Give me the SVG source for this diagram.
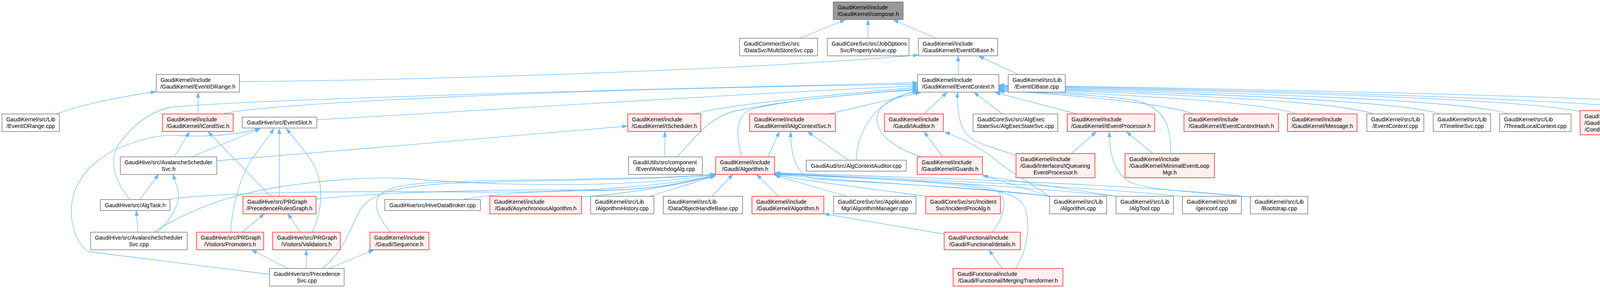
<svg xmlns="http://www.w3.org/2000/svg" width="4527" height="738" viewBox="0 0 4527 738">
<style>
.n rect{fill:#ffffff;stroke:#666666;stroke-width:1.3}
.r rect{fill:#fff0f0;stroke:#ff0000;stroke-width:1.3}
.root rect{fill:#999999;stroke:#666666;stroke-width:1.3}
text{font-family:"Liberation Sans",Arial,sans-serif;font-size:14.3px;fill:#000000}
.c{text-anchor:middle}
#edges path{fill:none;stroke:#63b8ff;stroke-width:1.3;marker-end:url(#a)}
</style>
<defs>
<marker id="a" markerUnits="userSpaceOnUse" markerWidth="14" markerHeight="10" refX="13" refY="5" orient="auto"><path d="M0,0.5 L13,5 L0,9.5 z" fill="#63b8ff" stroke="#63b8ff" stroke-width="1"/></marker>
</defs>
<rect x="0" y="0" width="4527" height="738" fill="#ffffff"/>
<g id="edges">
<path d="M2048,98 L2163,51"/>
<path d="M2222,98 L2222,51"/>
<path d="M2396,98 L2287,51"/>
<path d="M613,209 C1100,205 1900,180 2351,141"/>
<path d="M2453,191 L2453,144"/>
<path d="M2607,191 L2506,144"/>
<path d="M143,292 C220,265 320,246 399,235"/>
<path d="M507,292 L507,237"/>
<path d="M572,292 C640,268 1400,228 2349,216"/>
<path d="M332,511 C285,455 280,395 308,365 C340,320 380,290 430,276 C560,258 1500,232 2349,212"/>
<path d="M811,307 C1200,285 1900,240 2349,220"/>
<path d="M1777,292 C1850,270 2100,245 2349,224"/>
<path d="M1733,402 C1790,340 1820,300 1880,285 C2000,258 2200,240 2349,228"/>
<path d="M1900,402 C1886,360 1880,305 1915,283 C1990,258 2200,240 2349,230"/>
<path d="M2121,292 L2356,237"/>
<path d="M2192,410 C2194,350 2225,290 2275,262 C2300,248 2325,238 2349,232"/>
<path d="M2360,402 C2290,380 2245,345 2245,305 C2245,270 2290,245 2349,234"/>
<path d="M2365,292 L2424,237"/>
<path d="M2601,398 C2560,385 2520,372 2495,360 C2460,340 2450,300 2451,237"/>
<path d="M2566,292 L2494,237"/>
<path d="M2757,292 L2548,237"/>
<path d="M2997,393 C2998,320 2980,272 2900,256 C2780,240 2650,236 2558,234"/>
<path d="M3055,292 C3000,272 2850,250 2558,232"/>
<path d="M3319,292 C3230,262 2950,245 2558,230"/>
<path d="M3517,292 C3420,260 3050,242 2558,228"/>
<path d="M3687,292 C3590,260 3150,240 2558,226"/>
<path d="M3863,292 C3760,258 3250,238 2558,224"/>
<path d="M4045,286 C3900,255 3350,236 2558,222"/>
<path d="M4292,292 C4200,262 3500,235 2558,220"/>
<path d="M4433,402 C4452,370 4482,310 4452,283 C4380,255 3600,235 2558,218"/>
<path d="M490,402 L666,330"/>
<path d="M690,703 L228,645 C192,625 178,565 184,520 C192,455 250,395 334,368 C380,352 410,346 450,347 C530,352 600,346 666,330"/>
<path d="M591,595 C593,530 615,450 650,400 C672,370 688,350 701,330"/>
<path d="M715,503 L715,330"/>
<path d="M799,595 C826,540 830,470 802,420 C782,388 758,360 733,330"/>
<path d="M446,402 L485,338"/>
<path d="M693,503 L533,338"/>
<path d="M555,412 C900,385 1300,348 1606,323"/>
<path d="M358,511 L406,447"/>
<path d="M402,595 C430,570 462,530 456,490 C453,475 448,462 443,447"/>
<path d="M353,595 L349,540"/>
<path d="M620,595 L676,548"/>
<path d="M769,595 L737,548"/>
<path d="M737,688 L645,641"/>
<path d="M784,688 L784,641"/>
<path d="M842,688 L956,641"/>
<path d="M1702,402 L1702,338"/>
<path d="M1966,402 L1995,338"/>
<path d="M2687,503 C2500,478 2200,468 2080,458 C2040,448 2024,400 2024,338"/>
<path d="M2172,410 L2068,338"/>
<path d="M2413,402 L2366,338"/>
<path d="M2687,503 C2640,470 2585,440 2552,412 C2520,385 2475,360 2419,338"/>
<path d="M2743,393 L2806,338"/>
<path d="M3201,505 C3100,495 2950,488 2900,470 C2855,450 2840,400 2840,338"/>
<path d="M2951,393 L2884,338"/>
<path d="M2687,503 L2516,449"/>
<path d="M2857,503 L2516,451"/>
<path d="M4404,402 L4371,338"/>
<path d="M1663,503 L1831,451"/>
<path d="M1823,503 L1876,447"/>
<path d="M1993,503 L1937,447"/>
<path d="M2167,503 L1983,449"/>
<path d="M1489,505 C1620,495 1760,470 1831,450"/>
<path d="M1187,511 C1300,490 1450,490 1550,488 C1680,485 1780,465 1831,449"/>
<path d="M809,510 C1000,490 1300,485 1520,487 C1680,488 1780,462 1831,448"/>
<path d="M435,510 C600,490 900,490 1200,492 C1500,496 1760,470 1831,448"/>
<path d="M393,595 C480,540 580,500 720,478 C850,460 950,452 1050,458 C1250,475 1600,485 1831,447"/>
<path d="M825,688 C880,645 900,580 918,545 C945,495 1010,478 1150,470 C1400,460 1700,462 1831,446"/>
<path d="M1000,595 C970,560 950,520 975,497 C1010,468 1100,466 1300,462 C1550,458 1750,455 1831,446"/>
<path d="M2370,503 C2300,492 2100,470 1984,448"/>
<path d="M2541,595 C2580,540 2578,500 2545,485 C2460,462 2200,458 1984,446"/>
<path d="M2600,688 C2632,640 2642,560 2618,522 C2585,480 2450,466 1984,445"/>
<path d="M2687,503 C2500,482 2200,466 1984,447"/>
<path d="M2857,503 C2600,476 2300,460 1984,445"/>
<path d="M3027,503 C2700,472 2300,458 1984,444"/>
<path d="M3201,505 C2900,472 2400,456 1984,443"/>
<path d="M2417,600 L2110,548"/>
<path d="M2566,688 L2532,641"/>
</g>
<g id="compose_h" class="root"><rect x="2133" y="5" width="179" height="45"/><text x="2144" y="24">GaudiKernel/include</text><text class="c" x="2222.5" y="41.3">/GaudiKernel/compose.h</text></g>
<g id="MultiStoreSvc_cpp" class="n"><rect x="1893" y="98" width="200" height="45"/><text x="1904" y="117">GaudiCommonSvc/src</text><text class="c" x="1993" y="134.3">/DataSvc/MultiStoreSvc.cpp</text></g>
<g id="PropertyValue_cpp" class="n"><rect x="2118" y="98" width="209" height="45"/><text x="2129" y="117">GaudiCoreSvc/src/JobOptions</text><text class="c" x="2222.5" y="134.3">Svc/PropertyValue.cpp</text></g>
<g id="EventIDBase_h" class="n"><rect x="2351" y="98" width="203" height="45"/><text x="2362" y="117">GaudiKernel/include</text><text class="c" x="2452.5" y="134.3">/GaudiKernel/EventIDBase.h</text></g>
<g id="EventIDRange_h" class="n"><rect x="400" y="191" width="213" height="45"/><text x="411" y="210">GaudiKernel/include</text><text class="c" x="506.5" y="227.3">/GaudiKernel/EventIDRange.h</text></g>
<g id="EventContext_h" class="n"><rect x="2349" y="191" width="208" height="45"/><text x="2360" y="210">GaudiKernel/include</text><text class="c" x="2453" y="227.3">/GaudiKernel/EventContext.h</text></g>
<g id="EventIDBase_cpp" class="n"><rect x="2581" y="191" width="146" height="45"/><text x="2592" y="210">GaudiKernel/src/Lib</text><text class="c" x="2654" y="227.3">/EventIDBase.cpp</text></g>
<g id="EventIDRange_cpp" class="n"><rect x="5" y="292" width="147" height="45"/><text x="16" y="311">GaudiKernel/src/Lib</text><text class="c" x="78.5" y="328.3">/EventIDRange.cpp</text></g>
<g id="ICondSvc_h" class="r"><rect x="416" y="292" width="181" height="45"/><text x="427" y="311">GaudiKernel/include</text><text class="c" x="506.5" y="328.3">/GaudiKernel/ICondSvc.h</text></g>
<g id="EventSlot_h" class="n"><rect x="620" y="300" width="191" height="28"/><text class="c" x="715.5" y="319">GaudiHive/src/EventSlot.h</text></g>
<g id="IScheduler_h" class="r"><rect x="1607" y="292" width="187" height="45"/><text x="1618" y="311">GaudiKernel/include</text><text class="c" x="1700.5" y="328.3">/GaudiKernel/IScheduler.h</text></g>
<g id="IAlgContextSvc_h" class="r"><rect x="1919" y="292" width="220" height="45"/><text x="1930" y="311">GaudiKernel/include</text><text class="c" x="2029" y="328.3">/GaudiKernel/IAlgContextSvc.h</text></g>
<g id="IAuditor_h" class="r"><rect x="2264" y="292" width="151" height="45"/><text x="2275" y="311">GaudiKernel/include</text><text class="c" x="2339.5" y="328.3">/Gaudi/IAuditor.h</text></g>
<g id="AlgExecStateSvc_cpp" class="n"><rect x="2491" y="292" width="217" height="45"/><text x="2502" y="311">GaudiCoreSvc/src/AlgExec</text><text class="c" x="2599.5" y="328.3">StateSvc/AlgExecStateSvc.cpp</text></g>
<g id="IEventProcessor_h" class="r"><rect x="2732" y="292" width="224" height="45"/><text x="2743" y="311">GaudiKernel/include</text><text class="c" x="2844" y="328.3">/GaudiKernel/IEventProcessor.h</text></g>
<g id="EventContextHash_h" class="r"><rect x="3031" y="292" width="242" height="45"/><text x="3042" y="311">GaudiKernel/include</text><text class="c" x="3152" y="328.3">/GaudiKernel/EventContextHash.h</text></g>
<g id="Message_h" class="r"><rect x="3296" y="292" width="178" height="45"/><text x="3307" y="311">GaudiKernel/include</text><text class="c" x="3385" y="328.3">/GaudiKernel/Message.h</text></g>
<g id="EventContext_cpp" class="n"><rect x="3499" y="292" width="146" height="45"/><text x="3510" y="311">GaudiKernel/src/Lib</text><text class="c" x="3572" y="328.3">/EventContext.cpp</text></g>
<g id="ITimelineSvc_cpp" class="n"><rect x="3669" y="292" width="147" height="45"/><text x="3680" y="311">GaudiKernel/src/Lib</text><text class="c" x="3742.5" y="328.3">/ITimelineSvc.cpp</text></g>
<g id="ThreadLocalContext_cpp" class="n"><rect x="3839" y="292" width="183" height="45"/><text x="3850" y="311">GaudiKernel/src/Lib</text><text class="c" x="3930.5" y="328.3">/ThreadLocalContext.cpp</text></g>
<g id="ConditionAccessorHolder_h" class="r"><rect x="4045" y="283.5" width="200" height="62"/><text x="4056" y="302.5">GaudiTestSuite/include</text><text x="4056" y="319.8">/Gaudi/TestSuite/Conditions</text><text class="c" x="4145" y="337.1">/ConditionAccessorHolder.h</text></g>
<g id="Incident_h" class="r"><rect x="4268" y="292" width="172" height="45"/><text x="4279" y="311">GaudiKernel/include</text><text class="c" x="4354" y="328.3">/GaudiKernel/Incident.h</text></g>
<g id="AvalancheSchedulerSvc_h" class="n"><rect x="308" y="402" width="247" height="45"/><text x="319" y="421">GaudiHive/src/AvalancheScheduler</text><text class="c" x="431.5" y="438.3">Svc.h</text></g>
<g id="EventWatchdogAlg_cpp" class="n"><rect x="1609" y="402" width="189" height="45"/><text x="1620" y="421">GaudiUtils/src/component</text><text class="c" x="1703.5" y="438.3">/EventWatchdogAlg.cpp</text></g>
<g id="Gaudi_Algorithm_h" class="r"><rect x="1832" y="402" width="151" height="45"/><text x="1843" y="421">GaudiKernel/include</text><text class="c" x="1907.5" y="438.3">/Gaudi/Algorithm.h</text></g>
<g id="AlgContextAuditor_cpp" class="n"><rect x="2064" y="410.5" width="256" height="28"/><text class="c" x="2192" y="429.5">GaudiAud/src/AlgContextAuditor.cpp</text></g>
<g id="Guards_h" class="r"><rect x="2348" y="402" width="167" height="45"/><text x="2359" y="421">GaudiKernel/include</text><text class="c" x="2431.5" y="438.3">/GaudiKernel/Guards.h</text></g>
<g id="IQueueingEventProcessor_h" class="r"><rect x="2601" y="393.5" width="202" height="62"/><text x="2612" y="412.5">GaudiKernel/include</text><text x="2612" y="429.8">/Gaudi/Interfaces/IQueueing</text><text class="c" x="2702" y="447.1">EventProcessor.h</text></g>
<g id="MinimalEventLoopMgr_h" class="r"><rect x="2880" y="393.5" width="229" height="62"/><text x="2891" y="412.5">GaudiKernel/include</text><text x="2891" y="429.8">/GaudiKernel/MinimalEventLoop</text><text class="c" x="2994.5" y="447.1">Mgr.h</text></g>
<g id="HiveSlimEventLoopMgr_cpp" class="n"><rect x="4310" y="402" width="212" height="45"/><text x="4321" y="421">GaudiHive/src/HiveSlimEvent</text><text class="c" x="4416" y="438.3">LoopMgr.cpp</text></g>
<g id="AlgTask_h" class="n"><rect x="257" y="511.5" width="178" height="28"/><text class="c" x="346" y="530.5">GaudiHive/src/AlgTask.h</text></g>
<g id="PrecedenceRulesGraph_h" class="r"><rect x="622" y="503" width="187" height="45"/><text x="633" y="522">GaudiHive/src/PRGraph</text><text class="c" x="715.5" y="539.3">/PrecedenceRulesGraph.h</text></g>
<g id="HiveDataBroker_cpp" class="n"><rect x="985" y="511.5" width="245" height="28"/><text class="c" x="1107.5" y="530.5">GaudiHive/src/HiveDataBroker.cpp</text></g>
<g id="AsynchronousAlgorithm_h" class="r"><rect x="1254" y="503" width="235" height="45"/><text x="1265" y="522">GaudiKernel/include</text><text class="c" x="1371.5" y="539.3">/Gaudi/AsynchronousAlgorithm.h</text></g>
<g id="AlgorithmHistory_cpp" class="n"><rect x="1512" y="503" width="162" height="45"/><text x="1523" y="522">GaudiKernel/src/Lib</text><text class="c" x="1593" y="539.3">/AlgorithmHistory.cpp</text></g>
<g id="DataObjectHandleBase_cpp" class="n"><rect x="1698" y="503" width="203" height="45"/><text x="1709" y="522">GaudiKernel/src/Lib</text><text class="c" x="1799.5" y="539.3">/DataObjectHandleBase.cpp</text></g>
<g id="GaudiKernel_Algorithm_h" class="r"><rect x="1925" y="503" width="184" height="45"/><text x="1936" y="522">GaudiKernel/include</text><text class="c" x="2017" y="539.3">/GaudiKernel/Algorithm.h</text></g>
<g id="AlgorithmManager_cpp" class="n"><rect x="2134" y="503" width="211" height="45"/><text x="2145" y="522">GaudiCoreSvc/src/Application</text><text class="c" x="2239.5" y="539.3">Mgr/AlgorithmManager.cpp</text></g>
<g id="IncidentProcAlg_h" class="r"><rect x="2370" y="503" width="191" height="45"/><text x="2381" y="522">GaudiCoreSvc/src/Incident</text><text class="c" x="2465.5" y="539.3">Svc/IncidentProcAlg.h</text></g>
<g id="Algorithm_cpp" class="n"><rect x="2687" y="503" width="146" height="45"/><text x="2698" y="522">GaudiKernel/src/Lib</text><text class="c" x="2760" y="539.3">/Algorithm.cpp</text></g>
<g id="AlgTool_cpp" class="n"><rect x="2857" y="503" width="147" height="45"/><text x="2868" y="522">GaudiKernel/src/Lib</text><text class="c" x="2930.5" y="539.3">/AlgTool.cpp</text></g>
<g id="genconf_cpp" class="n"><rect x="3027" y="503" width="151" height="45"/><text x="3038" y="522">GaudiKernel/src/Util</text><text class="c" x="3102.5" y="539.3">/genconf.cpp</text></g>
<g id="Bootstrap_cpp" class="n"><rect x="3201" y="503" width="147" height="45"/><text x="3212" y="522">GaudiKernel/src/Lib</text><text class="c" x="3274.5" y="539.3">/Bootstrap.cpp</text></g>
<g id="AvalancheSchedulerSvc_cpp" class="n"><rect x="232" y="595" width="247" height="45"/><text x="243" y="614">GaudiHive/src/AvalancheScheduler</text><text class="c" x="355.5" y="631.3">Svc.cpp</text></g>
<g id="Promoters_h" class="r"><rect x="503" y="595" width="172" height="45"/><text x="514" y="614">GaudiHive/src/PRGraph</text><text class="c" x="589" y="631.3">/Visitors/Promoters.h</text></g>
<g id="Validators_h" class="r"><rect x="698" y="595" width="173" height="45"/><text x="709" y="614">GaudiHive/src/PRGraph</text><text class="c" x="784.5" y="631.3">/Visitors/Validators.h</text></g>
<g id="Sequence_h" class="r"><rect x="947" y="595" width="151" height="45"/><text x="958" y="614">GaudiKernel/include</text><text class="c" x="1022.5" y="631.3">/Gaudi/Sequence.h</text></g>
<g id="details_h" class="r"><rect x="2417" y="595" width="195" height="45"/><text x="2428" y="614">GaudiFunctional/include</text><text class="c" x="2514.5" y="631.3">/Gaudi/Functional/details.h</text></g>
<g id="PrecedenceSvc_cpp" class="n"><rect x="690" y="688" width="191" height="45"/><text x="701" y="707">GaudiHive/src/Precedence</text><text class="c" x="785.5" y="724.3">Svc.cpp</text></g>
<g id="MergingTransformer_h" class="r"><rect x="2440" y="688" width="281" height="45"/><text x="2451" y="707">GaudiFunctional/include</text><text class="c" x="2580.5" y="724.3">/Gaudi/Functional/MergingTransformer.h</text></g>
</svg>
